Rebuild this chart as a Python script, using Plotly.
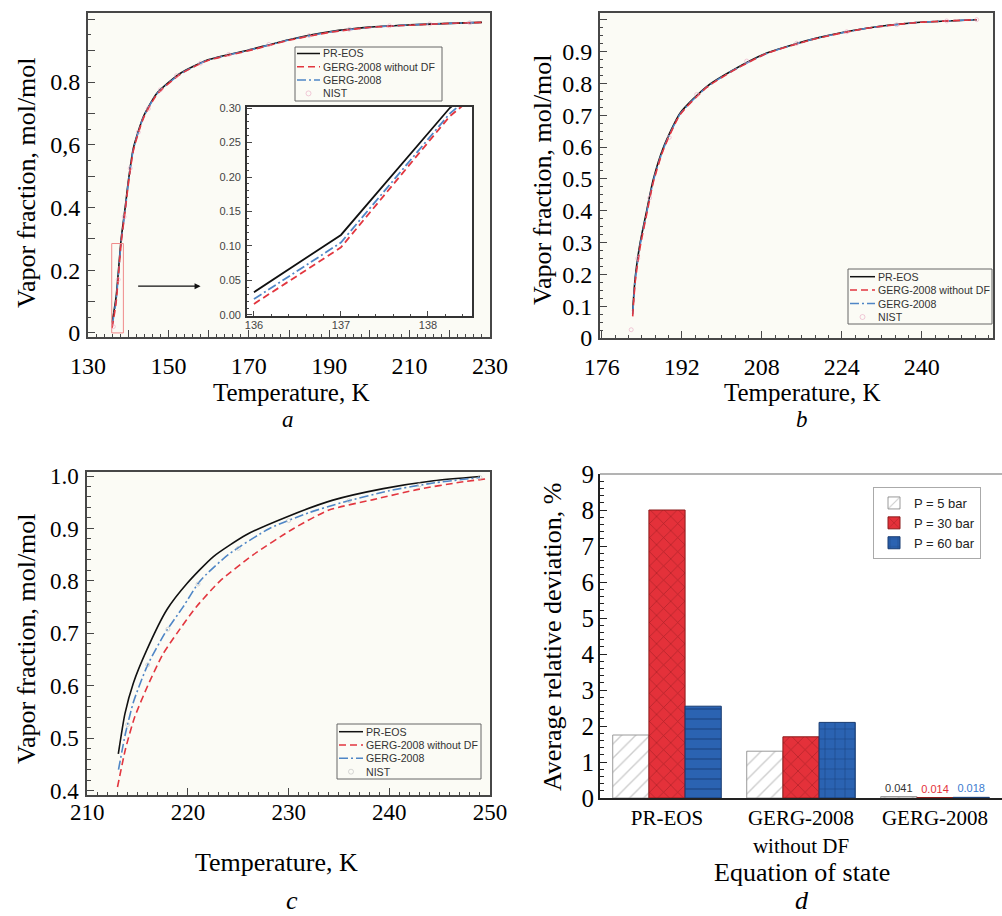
import plotly.graph_objects as go

W, H = 1002, 916
def fx(p): return p / W
def fy(p): return 1 - p / H

SERIF = "Liberation Serif"
SANS = "Liberation Sans"
AX = "#474747"
C_PR = "#111111"
C_NODF = "#e2363f"
C_GERG = "#4f86c6"
C_NIST = "rgba(232,160,190,0.55)"
C_NIST_C = "rgba(190,190,190,0.6)"
BG = "#fbfbf5"

# ---------------- data ----------------
# panel a (P = 5 bar)
T_a = [136.0, 137.0, 138.25, 139.25, 140.1, 141.3, 143.8, 147.2, 153.0, 159.7, 170.0, 180.0, 190.0, 200.0, 210.0, 220.0, 228.0]
pr_a = [0.033, 0.116, 0.300, 0.400, 0.490, 0.590, 0.690, 0.765, 0.828, 0.870, 0.902, 0.935, 0.960, 0.975, 0.982, 0.987, 0.990]
gerg_a = [0.023, 0.105, 0.292, 0.393, 0.485, 0.586, 0.688, 0.763, 0.826, 0.869, 0.901, 0.934, 0.959, 0.974, 0.982, 0.987, 0.990]
nodf_a = [0.016, 0.098, 0.288, 0.390, 0.481, 0.582, 0.685, 0.761, 0.825, 0.868, 0.900, 0.933, 0.958, 0.974, 0.981, 0.987, 0.990]
nist_T_a = [136.3, 137.5, 139.0, 140.5, 142.5, 145.0, 148.0, 152.0, 158.0, 165.0, 175.0, 185.0, 195.0, 205.0, 215.0, 225.0]
nist_a = [0.020, 0.170, 0.370, 0.525, 0.640, 0.715, 0.775, 0.820, 0.860, 0.888, 0.920, 0.948, 0.968, 0.979, 0.985, 0.989]

# panel b (P = 30 bar)
T_b = [182.2, 182.7, 183.7, 185.0, 186.3, 188.3, 191.7, 197.0, 202.3, 209.0, 219.0, 229.0, 239.0, 251.0]
pr_b = [0.084, 0.190, 0.300, 0.400, 0.497, 0.597, 0.707, 0.790, 0.842, 0.895, 0.942, 0.973, 0.991, 1.000]
gerg_b = [0.075, 0.182, 0.293, 0.394, 0.492, 0.593, 0.704, 0.788, 0.841, 0.894, 0.942, 0.973, 0.991, 1.000]
nodf_b = [0.068, 0.176, 0.287, 0.389, 0.488, 0.590, 0.702, 0.787, 0.840, 0.894, 0.941, 0.973, 0.991, 1.000]
nist_T_b = [181.9, 183.2, 185.6, 189.5, 195.0, 205.0, 215.0, 225.0, 235.0, 245.0, 251.0]
nist_b = [0.026, 0.250, 0.440, 0.630, 0.765, 0.870, 0.926, 0.962, 0.984, 0.996, 1.000]

# panel c (P = 60 bar)
T_pr_c = [213.08, 213.74, 214.57, 215.9, 217.9, 219.9, 222.5, 225.8, 229.8, 234.4, 239.4, 244.4, 249.0]
pr_c = [0.470, 0.547, 0.605, 0.668, 0.745, 0.795, 0.846, 0.888, 0.922, 0.954, 0.976, 0.991, 0.999]
T_gerg_c = [213.1, 213.8, 214.6, 216.0, 217.7, 219.5, 221.2, 224.0, 228.1, 232.0, 235.4, 240.0, 244.5, 249.0]
gerg_c = [0.440, 0.510, 0.570, 0.640, 0.700, 0.750, 0.800, 0.850, 0.900, 0.930, 0.950, 0.972, 0.987, 0.997]
T_nodf_c = [213.0, 213.8, 214.7, 216.0, 217.5, 218.9, 220.8, 223.2, 226.5, 230.5, 234.0, 238.4, 243.0, 247.0, 249.8]
nodf_c = [0.407, 0.480, 0.540, 0.600, 0.660, 0.700, 0.750, 0.800, 0.850, 0.900, 0.935, 0.955, 0.975, 0.988, 0.995]
nist_T_c = [214.0, 216.0, 218.0, 221.0, 225.0, 230.0, 236.0, 243.0, 249.0]
nist_c = [0.526, 0.640, 0.708, 0.794, 0.862, 0.915, 0.953, 0.983, 0.997]

# panel d
categories = ["PR-EOS", "GERG-2008<br>without DF", "GERG-2008"]
p5 = [1.75, 1.30, 0.041]
p30 = [8.00, 1.70, 0.014]
p60 = [2.55, 2.10, 0.018]

# tick labels
ticks_a_x = [130, 140, 150, 160, 170, 180, 190, 200, 210, 220, 230]
labels_a_x = ["130", "", "150", "", "170", "", "190", "", "210", "", "230"]
ticks_a_y = [0, 0.1, 0.2, 0.3, 0.4, 0.5, 0.6, 0.7, 0.8, 0.9, 1.0]
labels_a_y = ["0", "", "0.2", "", "0.4", "", "0,6", "", "0.8", "", ""]
ticks_b_x = [176, 192, 208, 224, 240]
ticks_b_y = [0, 0.1, 0.2, 0.3, 0.4, 0.5, 0.6, 0.7, 0.8, 0.9, 1.0]
labels_b_y = ["0", "0.1", "0.2", "0.3", "0.4", "0.5", "0.6", "0.7", "0.8", "0.9", ""]

# ---------------- figure ----------------
fig = go.Figure()

def curve(x, y, color, dash, xa, ya, shape="spline", width=1.6):
    fig.add_trace(go.Scatter(x=x, y=y, mode="lines",
                             line=dict(color=color, dash=dash, width=width, shape=shape, smoothing=0.6),
                             xaxis=xa, yaxis=ya, showlegend=False, hoverinfo="skip"))

def nist(x, y, color, xa, ya):
    fig.add_trace(go.Scatter(x=x, y=y, mode="markers",
                             marker=dict(symbol="circle-open", size=4, color=color, line=dict(width=1)),
                             xaxis=xa, yaxis=ya, showlegend=False, hoverinfo="skip"))

DASH_R = "7px,4px"
DASH_B = "9px,3px,2px,3px"

# panel a
curve(T_a, pr_a, C_PR, "solid", "x", "y")
curve(T_a, gerg_a, C_GERG, DASH_B, "x", "y")
curve(T_a, nodf_a, C_NODF, DASH_R, "x", "y")
nist(nist_T_a, nist_a, C_NIST, "x", "y")
# inset
curve(T_a, pr_a, C_PR, "solid", "x2", "y2", shape="linear", width=1.8)
curve(T_a, gerg_a, C_GERG, DASH_B, "x2", "y2", shape="linear", width=1.8)
curve(T_a, nodf_a, C_NODF, DASH_R, "x2", "y2", shape="linear", width=1.8)
# panel b
curve(T_b, pr_b, C_PR, "solid", "x3", "y3")
curve(T_b, gerg_b, C_GERG, DASH_B, "x3", "y3")
curve(T_b, nodf_b, C_NODF, DASH_R, "x3", "y3")
nist(nist_T_b, nist_b, C_NIST, "x3", "y3")
# panel c
curve(T_pr_c, pr_c, C_PR, "solid", "x4", "y4")
curve(T_gerg_c, gerg_c, C_GERG, DASH_B, "x4", "y4")
curve(T_nodf_c, nodf_c, C_NODF, DASH_R, "x4", "y4")
nist(nist_T_c, nist_c, C_NIST_C, "x4", "y4")

# panel d bars (input order puts GERG-2008 without DF first so the legend swatch shows the grid pattern)
order = [1, 0, 2]
def bars(name, vals, color, fg, pshape, lcolor, tcolor):
    fig.add_trace(go.Bar(
        name=name, x=[categories[i] for i in order], y=[vals[i] for i in order],
        xaxis="x5", yaxis="y5",
        marker=dict(color=color, line=dict(color=lcolor, width=1),
                    pattern=dict(shape=[pshape[i] for i in order], fgcolor=fg, size=10, solidity=0.14)),
        text=[(f"{vals[i]:.3f}" if vals[i] < 0.1 else "") for i in order],
        textposition="outside", textfont=dict(family=SANS, size=11, color=tcolor),
        cliponaxis=False, constraintext="none", hoverinfo="skip"))

bars("P = 5 bar", p5, "white", "#9c9c9c", ["/", "/", "/"], "#9a9a9a", "#333333")
bars("P = 30 bar", p30, "#e4313a", "#7c1416", ["x", "x", "x"], "#8c1c1c", "#e4313a")
bars("P = 60 bar", p60, "#2b63b2", "#0f2f5f", ["-", "+", "+"], "#163a70", "#3a7bd0")

# ---------------- axes ----------------
def ax(**kw):
    base = dict(showgrid=False, zeroline=False, showline=True, linecolor=AX, linewidth=1.8,
                mirror=True, ticks="inside", ticklen=7, tickwidth=1.2, tickcolor=AX,
                tickfont=dict(family=SERIF, size=24, color="black"), automargin=False)
    base.update(kw)
    return base

def minor(dtick, tick0=0, ln=3.5):
    return dict(ticks="inside", ticklen=ln, tickwidth=1, tickcolor=AX, dtick=dtick, tick0=tick0, showgrid=False)

inset_font = dict(family=SANS, size=11, color="#444444")
font_c = dict(family=SERIF, size=23, color="black")

fig.update_layout(
    xaxis=ax(domain=[fx(88), fx(490)], anchor="y", range=[130, 230], tickmode="array",
             tickvals=ticks_a_x, ticktext=labels_a_x, minor=minor(2, 130), ticklabelstandoff=6),
    yaxis=ax(domain=[fy(337), fy(13)], anchor="x", range=[-0.013, 1.02], tickmode="array",
             tickvals=ticks_a_y, ticktext=labels_a_y, minor=minor(0.05), ticklabelstandoff=1),
    xaxis2=ax(domain=[fx(247), fx(472)], anchor="y2", range=[135.92, 138.506], tickmode="array",
              tickvals=[136, 137, 138], ticktext=["136", "137", "138"], minor=minor(0.2, 136, 2.5),
              tickfont=inset_font, ticklen=5, linecolor="#333333", ticklabelstandoff=-2),
    yaxis2=ax(domain=[fy(316), fy(107)], anchor="x2", range=[-0.0015, 0.3015], dtick=0.05,
              tickformat=".2f", minor=minor(0.01, 0, 2.5), tickfont=inset_font, ticklen=5,
              linecolor="#333333", ticklabelstandoff=2),
    xaxis3=ax(domain=[fx(600), fx(993)], anchor="y3", range=[175.66, 254.26], tickmode="array",
              tickvals=ticks_b_x, ticktext=[str(v) for v in ticks_b_x], minor=minor(16 / 6, 176),
              ticklabelstandoff=6),
    yaxis3=ax(domain=[fy(338), fy(13)], anchor="x3", range=[0, 1.021], tickmode="array",
              tickvals=ticks_b_y, ticktext=labels_b_y, minor=minor(0.025), ticklabelstandoff=1),
    xaxis4=ax(domain=[fx(87.3), fx(490)], anchor="y4", range=[210, 250], dtick=10,
              minor=minor(1, 210), tickfont=font_c, ticklabelstandoff=-5),
    yaxis4=ax(domain=[fy(795), fy(471.7)], anchor="x4", range=[0.3918, 1.0082], dtick=0.1, tick0=0.4,
              tickformat=".1f", minor=minor(0.02, 0.4), tickfont=font_c, ticklabelstandoff=2),
    xaxis5=dict(domain=[fx(600), 1.0], anchor="y5", type="category", categoryorder="array",
                categoryarray=categories, range=[-0.5, 2.5], showline=True, linecolor="#222222",
                linewidth=2, ticks="", showgrid=False, zeroline=False, automargin=False,
                tickfont=dict(family=SERIF, size=21, color="black"), ticklabelstandoff=0),
    yaxis5=dict(domain=[fy(798), fy(474)], anchor="x5", range=[0, 9], dtick=1, showline=True,
                linecolor="#222222", linewidth=2, ticks="inside", ticklen=7, tickcolor="#222222",
                minor=dict(ticks="inside", ticklen=3.5, tickcolor="#222222", dtick=0.2, showgrid=False),
                showgrid=False, zeroline=False, automargin=False,
                tickfont=dict(family=SERIF, size=25, color="black"), ticklabelstandoff=-1),
)

# ---------------- shapes ----------------
shapes = []
def rect_bg(x0, y0, x1, y1, color):
    shapes.append(dict(type="rect", xref="paper", yref="paper", x0=fx(x0), x1=fx(x1),
                       y0=fy(y1), y1=fy(y0), fillcolor=color, line=dict(width=0), layer="below"))

rect_bg(88, 13, 490, 337, BG)
rect_bg(247, 107, 472, 316, "white")
rect_bg(600, 13, 993, 338, BG)
rect_bg(87.3, 471.7, 490, 795, BG)

# zoom region marker and panel d top border
shapes.append(dict(type="rect", xref="x", yref="y", x0=135.9, x1=138.8, y0=0, y1=0.285,
                   line=dict(color="#f08a8a", width=1), layer="above"))
shapes.append(dict(type="line", xref="paper", yref="paper", x0=fx(600), x1=1.0, y0=fy(474), y1=fy(474),
                   line=dict(color="#9a9a9a", width=1.5)))

annotations = []
legend_items = [("PR-EOS", C_PR, "solid", "line"),
                ("GERG-2008 without DF", C_NODF, DASH_R, "line"),
                ("GERG-2008", C_GERG, DASH_B, "line"),
                ("NIST", None, None, "marker")]

def line_legend(box, rows, sx0, sx1, tx, nist_color):
    x0, y0, x1, y1 = box
    shapes.append(dict(type="rect", xref="paper", yref="paper", x0=fx(x0), x1=fx(x1),
                       y0=fy(y1), y1=fy(y0), line=dict(color="#666666", width=1),
                       fillcolor=BG, layer="above"))
    for (name, color, dash, kind), ry in zip(legend_items, rows):
        if kind == "line":
            shapes.append(dict(type="line", xref="paper", yref="paper", x0=fx(sx0), x1=fx(sx1),
                               y0=fy(ry), y1=fy(ry), line=dict(color=color, dash=dash, width=1.5),
                               layer="above"))
        else:
            xc = (sx0 + sx1) / 2
            shapes.append(dict(type="circle", xref="paper", yref="paper", x0=fx(xc - 2.5), x1=fx(xc + 2.5),
                               y0=fy(ry + 2.5), y1=fy(ry - 2.5), line=dict(color=nist_color, width=1),
                               layer="above"))
        annotations.append(dict(text=name, xref="paper", yref="paper", x=fx(tx), y=fy(ry),
                                xanchor="left", yanchor="middle", showarrow=False, borderpad=0,
                                font=dict(family=SANS, size=10.6, color="#333333")))

line_legend((295, 47, 442, 101), [53.5, 66.8, 80.1, 93.4], 297, 320, 322, C_NIST)
line_legend((848, 269, 992, 324), [276.7, 290.0, 303.5, 317.0], 850, 875, 877, C_NIST)
line_legend((337, 724, 481, 779), [731.7, 745.0, 758.3, 771.7], 339, 363, 365, C_NIST_C)

# arrow from zoom region to inset
annotations.append(dict(x=158, y=0.149, ax=142.1, ay=0.149, xref="x", yref="y", axref="x", ayref="y",
                        text="", showarrow=True, arrowhead=2, arrowsize=1, arrowwidth=1.2,
                        arrowcolor="#111111"))

def label(text, x, y, size=26, angle=0, yanchor="middle"):
    annotations.append(dict(text=text, xref="paper", yref="paper", x=fx(x), y=fy(y),
                            xanchor="center", yanchor=yanchor, showarrow=False, textangle=angle,
                            borderpad=0, font=dict(family=SERIF, size=size, color="black")))

label("Vapor fraction, mol/mol", 26, 183, angle=-90)
label("Temperature, K", 291, 392.5, size=25)
label("<i>a</i>", 288, 419.5, size=23)
label("Vapor fraction, mol/mol", 542, 180, angle=-90)
label("Temperature, K", 802, 392.5, size=25)
label("<i>b</i>", 802, 419.5, size=23)
label("Vapor fraction, mol/mol", 26, 639, angle=-90)
label("Temperature, K", 276, 862)
label("<i>c</i>", 292, 916, yanchor="bottom")
label("Average relative deviation, %", 552, 637, angle=-90)
label("Equation of state", 802, 872)
label("<i>d</i>", 802, 916, yanchor="bottom")

fig.update_layout(
    width=W, height=H, autosize=False, margin=dict(l=0, r=0, t=0, b=0),
    paper_bgcolor="white", plot_bgcolor="rgba(0,0,0,0)",
    barmode="group", bargap=0.19, bargroupgap=0,
    showlegend=True,
    legend=dict(x=fx(873), y=fy(487), xanchor="left", yanchor="top", bgcolor="white",
                bordercolor="#aaaaaa", borderwidth=1, tracegroupgap=0,
                font=dict(family=SANS, size=13, color="#222222")),
    shapes=shapes, annotations=annotations,
)

fig.write_html("out.html", config={"displayModeBar": False},
               post_script="document.body.style.margin='0px';document.body.style.overflow='hidden';")
